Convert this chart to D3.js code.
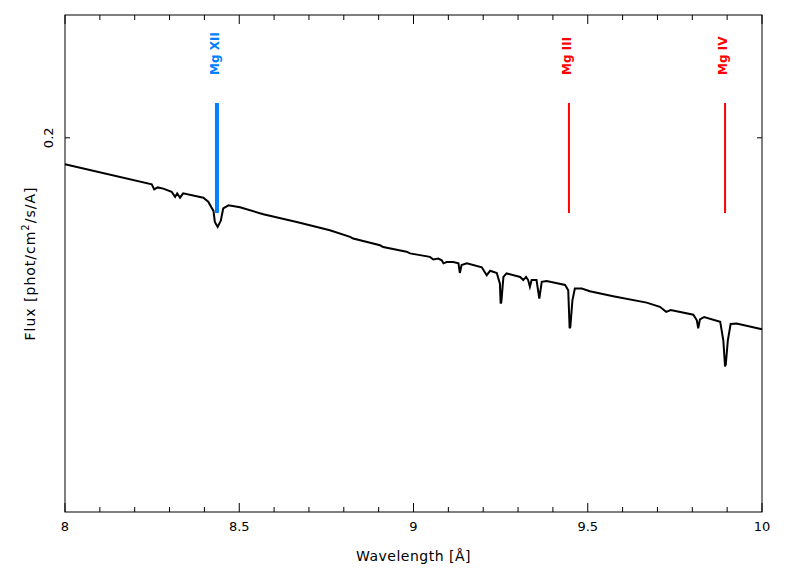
<!DOCTYPE html>
<html lang="en">
<head>
  <meta charset="UTF-8">
  <title>Spectrum</title>
  <script src="https://cdn.jsdelivr.net/npm/d3@7/dist/d3.min.js"></script>
  <style>
    body { margin: 0; background: #fff; }
    text { font-family: "DejaVu Sans", sans-serif; }
  </style>
</head>
<body>
  <div id="chart"></div>

  <script>
    // spectrum (wavelength in A, flux)
    var wave = [8.000, 8.249, 8.256, 8.266, 8.282, 8.306, 8.316, 8.322, 8.330, 8.339,
      8.397, 8.411, 8.426, 8.430, 8.438, 8.447, 8.454, 8.469, 8.502, 8.569,
      8.665, 8.760, 8.818, 8.827, 8.904, 8.913, 8.980, 8.990, 9.047, 9.057,
      9.071, 9.081, 9.086, 9.095, 9.114, 9.129, 9.133, 9.138, 9.153, 9.196,
      9.210, 9.220, 9.239, 9.248, 9.250, 9.252, 9.258, 9.267, 9.306, 9.315, 9.323,
      9.329, 9.334, 9.339, 9.353, 9.361, 9.368, 9.382, 9.435, 9.444, 9.448, 9.450,
      9.456, 9.463, 9.483, 9.506, 9.573, 9.669, 9.707, 9.725, 9.738, 9.803,
      9.813, 9.817, 9.822, 9.834, 9.880, 9.889, 9.894, 9.896, 9.902, 9.910, 9.927,
      10.000];
    var flux = [0.1929, 0.1877, 0.1864, 0.1869, 0.1866, 0.1858, 0.1845, 0.1854, 0.1843, 0.1854,
      0.1843, 0.1833, 0.1810, 0.1783, 0.1771, 0.1786, 0.1816, 0.1824, 0.1819, 0.1802,
      0.1783, 0.1763, 0.1747, 0.1743, 0.1727, 0.1723, 0.1712, 0.1708, 0.1700, 0.1694,
      0.1696, 0.1692, 0.1685, 0.1688, 0.1688, 0.1685, 0.1663, 0.1681, 0.1685, 0.1676,
      0.1658, 0.1668, 0.1663, 0.1639, 0.1595, 0.1598, 0.1654, 0.1662, 0.1654, 0.1647, 0.1654,
      0.1647, 0.1632, 0.1647, 0.1647, 0.1606, 0.1643, 0.1645, 0.1636, 0.1624, 0.1542, 0.1545,
      0.1602, 0.1628, 0.1628, 0.1622, 0.1611, 0.1597, 0.1588, 0.1577, 0.1581, 0.1571,
      0.1559, 0.1542, 0.1561, 0.1566, 0.1556, 0.1517, 0.1464, 0.1467, 0.1517, 0.1551, 0.1552,
      0.1540];

    // line identifications
    var lineNames = ["Mg XII", "Mg III", "Mg IV"];
    var lineWaves = [8.436, 9.446, 9.894];

    var xTicks = [8, 8.5, 9, 9.5, 10];
    var yTicks = [0.2];

    var lineStyle = {
      "Mg XII": { color: "#0080ff", width: 4 },
      "Mg III": { color: "#ff0000", width: 2 },
      "Mg IV": { color: "#ff0000", width: 2 }
    };

    var W = 786, H = 575;
    var margin = { top: 15, right: 24, bottom: 63, left: 65 },
      width = W - margin.left - margin.right,
      height = H - margin.top - margin.bottom;

    var svg = d3.select("#chart").append("svg")
      .attr("width", W)
      .attr("height", H);

    var g = svg.append("g")
      .attr("transform", "translate(" + margin.left + "," + margin.top + ")");

    var x = d3.scaleLinear().domain([8, 10]).range([0, width]);
    var y = d3.scaleLog().domain([0.12, 0.2365]).range([height, 0]);

    // frame
    g.append("rect")
      .attr("width", width)
      .attr("height", height)
      .attr("fill", "none")
      .attr("stroke", "#000")
      .attr("stroke-width", 1);

    // x ticks, inward on bottom and top
    var minor = d3.range(8, 10.0001, 0.1);
    function tickLen(v) { return Math.abs(v * 2 - Math.round(v * 2)) < 1e-6 ? 9 : 5; }

    g.append("g").selectAll("line.bt")
      .data(minor).enter().append("line")
      .attr("x1", d => x(d)).attr("x2", d => x(d))
      .attr("y1", height).attr("y2", d => height - tickLen(d))
      .attr("stroke", "#000");
    g.append("g").selectAll("line.tt")
      .data(minor).enter().append("line")
      .attr("x1", d => x(d)).attr("x2", d => x(d))
      .attr("y1", 0).attr("y2", d => tickLen(d))
      .attr("stroke", "#000");

    g.selectAll(".xlab")
      .data(xTicks).enter().append("text")
      .attr("x", d => x(d))
      .attr("y", height + 19)
      .attr("text-anchor", "middle")
      .style("font-size", "13px")
      .text(d => d);

    // y ticks, left and right
    g.selectAll(".yl")
      .data(yTicks).enter().append("line")
      .attr("x1", 0).attr("x2", 5)
      .attr("y1", d => y(d)).attr("y2", d => y(d))
      .attr("stroke", "#000");
    g.selectAll(".yr")
      .data(yTicks).enter().append("line")
      .attr("x1", width).attr("x2", width - 5)
      .attr("y1", d => y(d)).attr("y2", d => y(d))
      .attr("stroke", "#000");
    g.selectAll(".ylab")
      .data(yTicks).enter().append("text")
      .attr("transform", d => "translate(-12," + y(d) + ") rotate(-90)")
      .attr("text-anchor", "middle")
      .style("font-size", "13px")
      .text(d => d);

    // axis titles
    svg.append("text")
      .attr("x", margin.left + width / 2)
      .attr("y", 561)
      .attr("text-anchor", "middle")
      .style("font-size", "14px")
      .style("letter-spacing", "0.5px")
      .text("Wavelength [Å]");

    var yt = svg.append("text")
      .attr("transform", "translate(35," + (margin.top + height / 2) + ") rotate(-90)")
      .attr("text-anchor", "middle")
      .style("font-size", "14px")
      .style("letter-spacing", "1px");
    yt.append("tspan").text("Flux [phot/cm");
    yt.append("tspan").attr("dy", -6).style("font-size", "10px").text("2");
    yt.append("tspan").attr("dy", 6).text("/s/A]");

    // spectrum
    var pts = wave.map((w, i) => [w, flux[i]]);
    g.append("path")
      .datum(pts)
      .attr("fill", "none")
      .attr("stroke", "#000")
      .attr("stroke-width", 2)
      .attr("stroke-linejoin", "miter")
      .attr("d", d3.line().x(d => x(d[0])).y(d => y(d[1])));

    // line markers and labels
    g.selectAll(".mark")
      .data(lineNames).enter().append("line")
      .attr("x1", (d, i) => x(lineWaves[i]))
      .attr("x2", (d, i) => x(lineWaves[i]))
      .attr("y1", 88).attr("y2", 198)
      .attr("stroke", d => lineStyle[d].color)
      .attr("stroke-width", d => lineStyle[d].width);

    g.selectAll(".mlab")
      .data(lineNames).enter().append("text")
      .attr("transform", (d, i) => "translate(" + (x(lineWaves[i]) + 2) + ",60) rotate(-90)")
      .attr("text-anchor", "start")
      .style("font-size", "12px")
      .style("font-weight", "bold")
      .attr("fill", d => lineStyle[d].color)
      .text(d => d);
  </script>
</body>
</html>
